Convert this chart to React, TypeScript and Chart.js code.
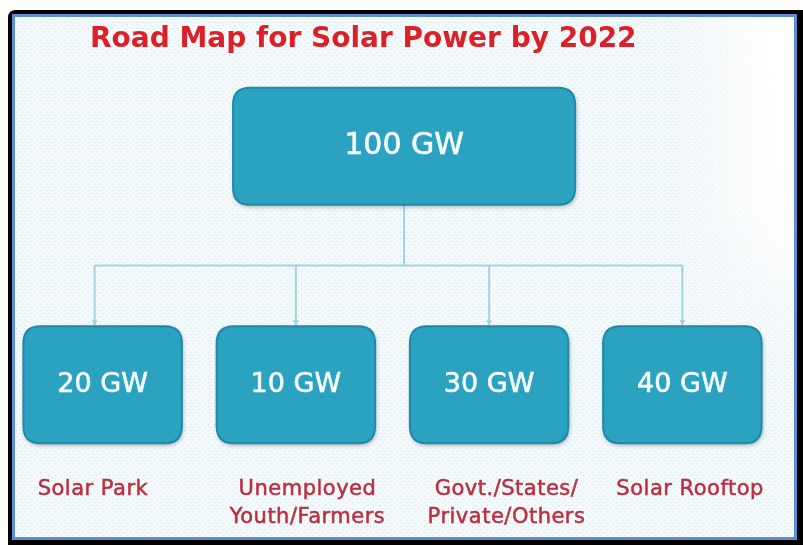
import React, { useEffect, useRef } from "react";
import { Chart, registerables } from "chart.js";

Chart.register(...registerables);

const TITLE = "Road Map for Solar Power by 2022";
const UNIT = "GW";
const ROOT_VALUE = 100;
const CATEGORIES = ["Solar Park", "Unemployed Youth/Farmers", "Govt./States/Private/Others", "Solar Rooftop"];
const CATEGORY_LINES = [["Solar Park"], ["Unemployed", "Youth/Farmers"], ["Govt./States/", "Private/Others"], ["Solar Rooftop"]];
const CHILD_VALUES = [20, 10, 30, 40];

// layout/style constants (category units), kept apart from the data
const LABEL_SHIFT = [-0.05, 0.06, 0.09, 0.04];
const ROOT_SHIFT = 0.06;

const FONT = '"DejaVu Sans", Verdana, sans-serif';
const BOX_FILL = "#2ba2bf";
const BOX_STROKE = "#1f8aa6";
const LINK = "#a3d2de";
const TITLE_RED = "#dc2027";
const LABEL_RED = "#bb2e40";

function roundRect(ctx: CanvasRenderingContext2D, x: number, y: number, w: number, h: number, r: number) {
  ctx.beginPath();
  ctx.moveTo(x + r, y);
  ctx.lineTo(x + w - r, y);
  ctx.quadraticCurveTo(x + w, y, x + w, y + r);
  ctx.lineTo(x + w, y + h - r);
  ctx.quadraticCurveTo(x + w, y + h, x + w - r, y + h);
  ctx.lineTo(x + r, y + h);
  ctx.quadraticCurveTo(x, y + h, x, y + h - r);
  ctx.lineTo(x, y + r);
  ctx.quadraticCurveTo(x, y, x + r, y);
  ctx.closePath();
}

function drawBox(ctx: CanvasRenderingContext2D, cx: number, cy: number, w: number, h: number, text: string, size: number) {
  ctx.save();
  ctx.shadowColor = "rgba(0,40,60,0.35)";
  ctx.shadowBlur = 4;
  ctx.shadowOffsetX = 1;
  ctx.shadowOffsetY = 2;
  roundRect(ctx, cx - w / 2, cy - h / 2, w, h, 17);
  ctx.fillStyle = BOX_FILL;
  ctx.fill();
  ctx.restore();
  ctx.save();
  roundRect(ctx, cx - w / 2, cy - h / 2, w, h, 17);
  ctx.lineWidth = 2;
  ctx.strokeStyle = BOX_STROKE;
  ctx.stroke();
  ctx.fillStyle = "#f4fbfd";
  ctx.strokeStyle = "#f4fbfd";
  ctx.lineWidth = 0.6;
  ctx.font = `${size}px ${FONT}`;
  ctx.textAlign = "center";
  ctx.textBaseline = "middle";
  ctx.fillText(text, cx, cy);
  ctx.strokeText(text, cx, cy);
  ctx.restore();
}

const backgroundPlugin = {
  id: "frameBackground",
  beforeDraw(chart: any) {
    const ctx: CanvasRenderingContext2D = chart.ctx;
    const W = chart.width;
    const H = chart.height;
    ctx.save();
    ctx.fillStyle = "#ffffff";
    ctx.fillRect(0, 0, W, H);
    // black outer frame
    ctx.fillStyle = "#000000";
    roundRect(ctx, 8, 10, W - 8 + 10, H - 10 + 10, 8);
    ctx.fill();
    // inner panel
    ctx.fillStyle = "#f3f8fa";
    ctx.fillRect(12, 14, W - 6 - 12, H - 5 - 14);
    // dots
    const pc = document.createElement("canvas");
    pc.width = 6;
    pc.height = 6;
    const p = pc.getContext("2d")!;
    p.fillStyle = "rgba(170,205,215,0.45)";
    p.fillRect(1, 1, 1, 1);
    p.fillRect(4, 4, 1, 1);
    const pat = ctx.createPattern(pc, "repeat")!;
    ctx.fillStyle = pat;
    ctx.fillRect(12, 14, W - 6 - 12, H - 5 - 14);
    // soft white fade on right upper side
    const oc = document.createElement("canvas");
    oc.width = 130;
    oc.height = 360;
    const o = oc.getContext("2d")!;
    const gh = o.createLinearGradient(0, 0, 110, 0);
    gh.addColorStop(0, "rgba(255,255,255,0)");
    gh.addColorStop(1, "rgba(255,255,255,0.95)");
    o.fillStyle = gh;
    o.fillRect(0, 0, 130, 360);
    o.globalCompositeOperation = "destination-in";
    const gv = o.createLinearGradient(0, 0, 0, 360);
    gv.addColorStop(0, "rgba(0,0,0,1)");
    gv.addColorStop(0.55, "rgba(0,0,0,0.9)");
    gv.addColorStop(1, "rgba(0,0,0,0)");
    o.fillStyle = gv;
    o.fillRect(0, 0, 130, 360);
    ctx.drawImage(oc, W - 6 - 130, 14);
    // blue inner border
    ctx.strokeStyle = "#5a8fd6";
    ctx.lineWidth = 3;
    ctx.strokeRect(13.5, 15.5, W - 6 - 15, H - 5 - 17);
    ctx.restore();
  },
};

const treePlugin = {
  id: "treeDiagram",
  afterDatasetsDraw(chart: any) {
    const ctx: CanvasRenderingContext2D = chart.ctx;
    const xs = chart.scales.x;
    const ys = chart.scales.y;
    const step = xs.getPixelForValue(1) - xs.getPixelForValue(0);
    const lvl = ys.getPixelForValue(1) - ys.getPixelForValue(0);
    const childX = CHILD_VALUES.map((_, i) => xs.getPixelForValue(i));
    const rootX = (childX[0] + childX[childX.length - 1]) / 2 + ROOT_SHIFT * step;
    const rootY = ys.getPixelForValue(0);
    const childY = ys.getPixelForValue(1);
    const boxH = lvl * 0.49;
    const rootW = step * 1.77;
    const childW = step * 0.82;
    const busY = ys.getPixelForValue(0.5);

    // title
    ctx.save();
    ctx.fillStyle = TITLE_RED;
    ctx.font = `bold 28px ${FONT}`;
    ctx.textAlign = "left";
    ctx.textBaseline = "middle";
    ctx.fillText(TITLE, 90, 40);
    ctx.restore();

    // connectors
    const dropX = childX.map((x, i) => x + (i === 0 ? -8 : 0));
    ctx.save();
    ctx.strokeStyle = LINK;
    ctx.lineWidth = 2;
    ctx.beginPath();
    ctx.moveTo(rootX, rootY + boxH / 2);
    ctx.lineTo(rootX, busY);
    ctx.moveTo(dropX[0], busY);
    ctx.lineTo(dropX[dropX.length - 1], busY);
    dropX.forEach((x) => {
      ctx.moveTo(x, busY);
      ctx.lineTo(x, childY - boxH / 2 - 1);
    });
    ctx.stroke();
    ctx.fillStyle = LINK;
    dropX.forEach((x) => {
      const ty = childY - boxH / 2 - 1;
      ctx.beginPath();
      ctx.moveTo(x - 3, ty - 5);
      ctx.lineTo(x + 3, ty - 5);
      ctx.lineTo(x, ty);
      ctx.closePath();
      ctx.fill();
    });
    ctx.restore();

    // boxes
    drawBox(ctx, rootX, rootY, rootW, boxH, `${ROOT_VALUE} ${UNIT}`, 30);
    CHILD_VALUES.forEach((v, i) => {
      drawBox(ctx, childX[i], childY, childW, boxH, `${v} ${UNIT}`, 27);
    });

    // category labels
    ctx.save();
    ctx.fillStyle = LABEL_RED;
    ctx.strokeStyle = LABEL_RED;
    ctx.lineWidth = 0.5;
    ctx.font = `21px ${FONT}`;
    (ctx as any).letterSpacing = "0.5px";
    ctx.textAlign = "center";
    ctx.textBaseline = "middle";
    CATEGORY_LINES.forEach((lines, i) => {
      lines.forEach((t, j) => {
        const x = childX[i] + LABEL_SHIFT[i] * step;
        const y = ys.getPixelForValue(1.44) + j * 28;
        ctx.fillText(t, x, y);
        ctx.strokeText(t, x, y);
      });
    });
    ctx.restore();
  },
};

export default function App() {
  const ref = useRef<HTMLCanvasElement | null>(null);
  useEffect(() => {
    document.body.style.margin = "0";
    const chart = new Chart(ref.current!, {
      type: "bar",
      data: {
        labels: CATEGORIES,
        datasets: [
          {
            label: "GW",
            data: CHILD_VALUES,
            yAxisID: "val",
            backgroundColor: "rgba(0,0,0,0)",
            borderWidth: 0,
          },
        ],
      },
      options: {
        responsive: false,
        animation: false,
        events: [],
        layout: { padding: { left: 6, right: 24, top: 27, bottom: 41 } },
        plugins: { legend: { display: false }, tooltip: { enabled: false }, title: { display: false } },
        scales: {
          x: { type: "category", display: false, offset: true },
          y: { type: "linear", display: false, min: -0.5, max: 1.5, reverse: true },
          val: { type: "linear", display: false, min: 0, max: ROOT_VALUE },
        },
      },
      plugins: [backgroundPlugin, treePlugin],
    });
    return () => chart.destroy();
  }, []);
  return (
    <div style={{ position: "absolute", left: 0, top: 0, width: 803, height: 545 }}>
      <canvas ref={ref} width={803} height={545} />
    </div>
  );
}
